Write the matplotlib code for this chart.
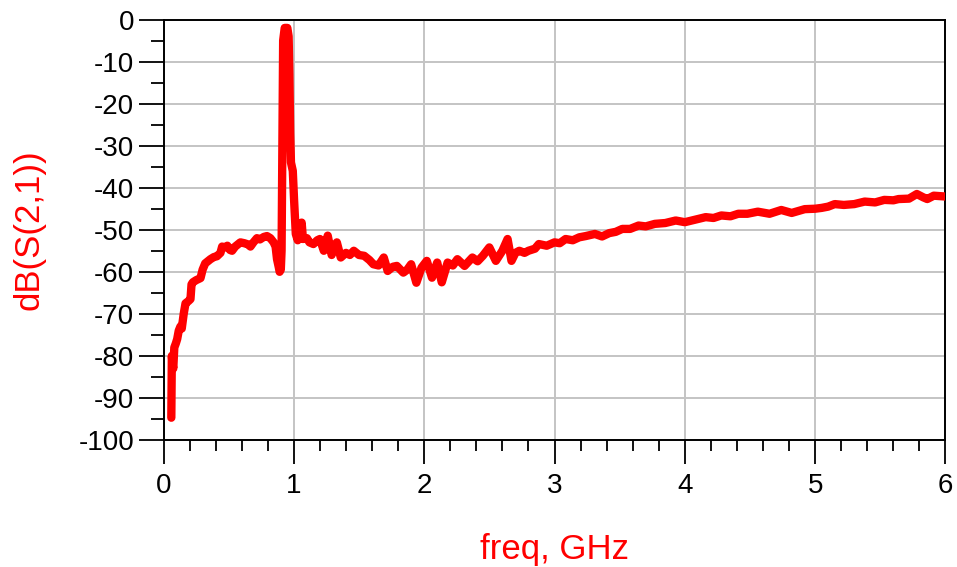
import matplotlib.pyplot as plt
from matplotlib.ticker import MultipleLocator

plt.rcParams['font.family'] = ['Liberation Sans', 'DejaVu Sans']
plt.rcParams['axes.unicode_minus'] = False

# S21 trace, freq in GHz and magnitude in dB
freq = [0.060, 0.062, 0.064, 0.070, 0.075, 0.083, 0.095, 0.105, 0.117, 0.130,
        0.140, 0.155, 0.169, 0.190, 0.207, 0.215, 0.225, 0.250, 0.284, 0.300,
        0.320, 0.340, 0.360, 0.386, 0.410, 0.437, 0.450, 0.470, 0.490, 0.510,
        0.526, 0.550, 0.570, 0.590, 0.620, 0.650, 0.667, 0.690, 0.717, 0.740,
        0.770, 0.794, 0.820, 0.845, 0.860, 0.871, 0.885, 0.891, 0.900, 0.906,
        0.912, 0.918, 0.930, 0.950, 0.960, 0.966, 0.972, 0.978, 0.992, 1.002,
        1.015, 1.030, 1.045, 1.060, 1.070, 1.100, 1.120, 1.150, 1.180, 1.200,
        1.230, 1.260, 1.290, 1.310, 1.330, 1.360, 1.400, 1.430, 1.460, 1.500,
        1.540, 1.580, 1.610, 1.650, 1.690, 1.720, 1.760, 1.790, 1.840, 1.870,
        1.900, 1.940, 1.980, 2.020, 2.060, 2.100, 2.135, 2.180, 2.220, 2.255,
        2.310, 2.370, 2.410, 2.450, 2.500, 2.550, 2.600, 2.640, 2.670, 2.700,
        2.730, 2.770, 2.800, 2.850, 2.880, 2.940, 3.000, 3.040, 3.085, 3.140,
        3.190, 3.240, 3.310, 3.365, 3.420, 3.470, 3.520, 3.580, 3.645, 3.700,
        3.770, 3.850, 3.930, 4.000, 4.080, 4.160, 4.220, 4.280, 4.350, 4.410,
        4.480, 4.560, 4.650, 4.740, 4.820, 4.920, 5.000, 5.050, 5.100, 5.150,
        5.220, 5.300, 5.380, 5.460, 5.530, 5.600, 5.640, 5.720, 5.780, 5.830,
        5.860, 5.910, 6.000]
s21_db = [-94.7, -88.0, -80.0, -82.0, -83.0, -78.0, -77.0, -76.0, -74.0, -73.0,
          -73.5, -70.0, -67.5, -67.0, -66.5, -63.0, -62.5, -62.0, -61.5, -59.5,
          -58.0, -57.5, -57.0, -56.5, -56.3, -55.5, -54.0, -54.2, -53.8, -54.8,
          -55.0, -54.0, -53.5, -53.0, -53.2, -53.5, -54.0, -53.0, -52.0, -52.3,
          -51.7, -51.5, -52.0, -53.0, -54.0, -57.0, -59.0, -60.0, -59.5, -55.0,
          -30.0, -5.0, -2.0, -2.0, -4.0, -13.0, -27.0, -34.0, -36.0, -43.0,
          -51.0, -52.5, -50.0, -48.3, -52.2, -52.0, -53.0, -53.4, -52.5, -52.2,
          -55.0, -51.4, -56.0, -54.0, -53.0, -56.6, -55.5, -56.0, -55.0, -56.0,
          -56.2, -57.2, -58.2, -58.5, -56.6, -59.8, -58.8, -58.6, -60.2, -59.5,
          -58.2, -62.6, -59.0, -57.4, -61.4, -57.8, -62.5, -57.8, -58.5, -57.0,
          -58.6, -56.6, -57.5, -56.2, -54.2, -57.4, -55.0, -52.2, -57.4, -55.5,
          -55.0, -55.5, -55.0, -54.5, -53.4, -53.8, -53.0, -53.2, -52.2, -52.5,
          -51.8, -51.5, -51.0, -51.6, -50.8, -50.5, -49.8, -49.8, -49.0, -49.2,
          -48.6, -48.4, -47.8, -48.2, -47.6, -47.0, -47.2, -46.6, -46.8, -46.2,
          -46.2, -45.7, -46.2, -45.3, -46.0, -45.1, -45.0, -44.8, -44.5, -43.9,
          -44.1, -43.9, -43.3, -43.5, -42.9, -43.0, -42.7, -42.6, -41.5, -42.3,
          -42.7, -41.9, -42.1]

fig = plt.figure(figsize=(9.57, 5.67), dpi=100)
ax = fig.add_axes([163.5/957, 1 - 440/567, (945.5 - 163.5)/957, (440 - 19.5)/567])

ax.plot(freq, s21_db, color='#ff0000', lw=6, solid_joinstyle='round',
        solid_capstyle='round', zorder=3)

ax.set_xlim(0, 6)
ax.set_ylim(-100, 0)
ax.xaxis.set_major_locator(MultipleLocator(1))
ax.xaxis.set_minor_locator(MultipleLocator(0.2))
ax.yaxis.set_major_locator(MultipleLocator(10))
ax.yaxis.set_minor_locator(MultipleLocator(5))

ax.grid(True, which='major', color='#c4c4c4', lw=1.4, zorder=0)
ax.tick_params(axis='x', which='major', direction='out', length=17, width=1.3,
               pad=7, labelsize=20)
ax.tick_params(axis='x', which='minor', direction='out', length=8, width=1.3)
ax.tick_params(axis='y', which='major', direction='out', length=18, width=1.3,
               pad=3, labelsize=20)
ax.tick_params(axis='y', which='minor', direction='out', length=9.5, width=1.3)
for sp in ax.spines.values():
    sp.set_linewidth(1.4)
    sp.set_color('black')

ax.set_xlabel('freq, GHz', color='#ff0000', fontsize=25, labelpad=24)
ax.set_ylabel('dB(S(2,1))', color='#ff0000', fontsize=25, labelpad=24)

fig.savefig('out.png', dpi=100)
